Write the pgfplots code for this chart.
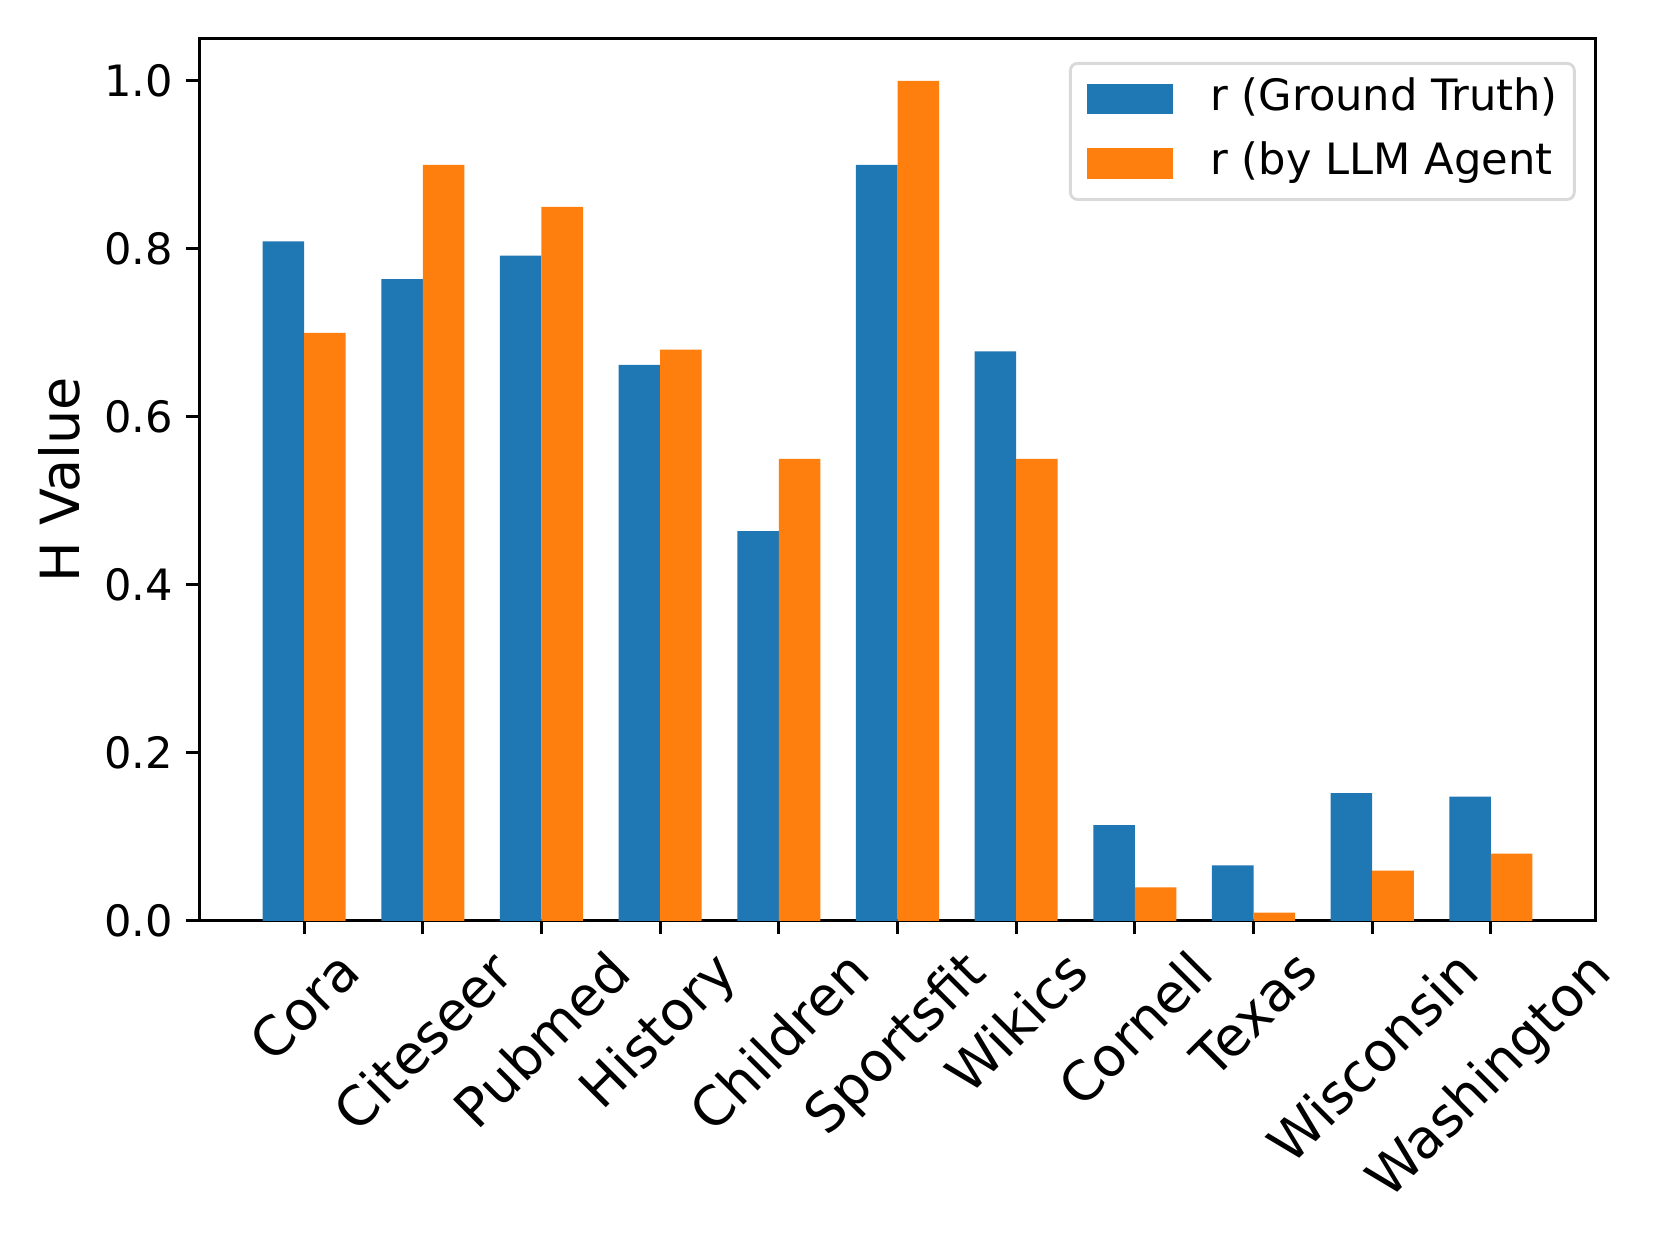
\documentclass[border=0pt]{standalone}
\usepackage{fontspec}
\setmainfont{DejaVu Sans}
\usepackage{graphicx}
\usepackage{pgfplots}
\pgfplotsset{compat=1.18}
\definecolor{tabblue}{HTML}{1F77B4}
\definecolor{taborange}{HTML}{FF7F0E}

\pgfplotsset{
  mybar/.style={ybar, bar width=0.35, draw=none,
    legend image code/.code={\fill[##1, sharp corners] (0pt,-4.2pt) rectangle (24pt,4.2pt);}},
}

\begin{document}
\begin{tikzpicture}
\path[use as bounding box] (-55.3pt,-90pt) rectangle (405.8pt,255.8pt);
\begin{axis}[
  at={(0,0)}, anchor=south west,
  scale only axis, width=388pt, height=245pt,
  xmin=-0.885, xmax=10.885, ymin=0, ymax=1.05,
  axis line style={line width=0.8pt},
  every tick/.style={black, line width=0.8pt},
  tick align=outside, tick pos=left, major tick length=3.5pt,
  /pgf/number format/assume math mode=true,
  xtick={0,1,2,3,4,5,6,7,8,9,10},
  xticklabels={\rotatebox{45}{Cora},\rotatebox{45}{Citeseer},\rotatebox{45}{Pubmed},
    \rotatebox{45}{History},\rotatebox{45}{Children},\rotatebox{45}{Sportsfit},
    \rotatebox{45}{Wikics},\rotatebox{45}{Cornell},\rotatebox{45}{Texas},
    \rotatebox{45}{Wisconsin},\rotatebox{45}{Washington}},
  xticklabel style={font=\fontsize{15}{18}\selectfont, anchor=north, inner sep=0pt, yshift=-3.5pt},
  ytick={0,0.2,0.4,0.6,0.8,1.0},
  yticklabel style={font=\fontsize{12}{14}\selectfont, inner sep=0pt, xshift=-3.5pt,
    /pgf/number format/fixed, /pgf/number format/fixed zerofill, /pgf/number format/precision=1},
  ylabel={H Value},
  ylabel style={font=\fontsize{15}{18}\selectfont, at={(axis description cs:-0.1,0.5)}, anchor=center},
  legend style={at={(1,1)}, xshift=-5.6pt, yshift=-6.4pt, anchor=north east,
    draw=black!15, rounded corners=2pt, line width=0.8pt,
    inner xsep=4.6pt, inner ysep=4pt, row sep=5.8pt,
    font=\fontsize{12}{14}\selectfont,
    nodes={inner xsep=0pt, inner ysep=0pt, text height=9pt, text depth=3pt},
    /tikz/every odd column/.append style={column sep=10.3pt}},
  legend cell align=left,
]
\addplot[mybar, fill=tabblue, bar shift=-0.175] coordinates {
  (0,0.809) (1,0.764) (2,0.792) (3,0.662) (4,0.464) (5,0.900)
  (6,0.678) (7,0.114) (8,0.066) (9,0.152) (10,0.148)};
\addlegendentry{r (Ground Truth)}
\addplot[mybar, fill=taborange, bar shift=0.175] coordinates {
  (0,0.70) (1,0.90) (2,0.85) (3,0.68) (4,0.55) (5,1.00)
  (6,0.55) (7,0.04) (8,0.01) (9,0.06) (10,0.08)};
\addlegendentry{r (by LLM Agent}
\end{axis}
\end{tikzpicture}
\end{document}
